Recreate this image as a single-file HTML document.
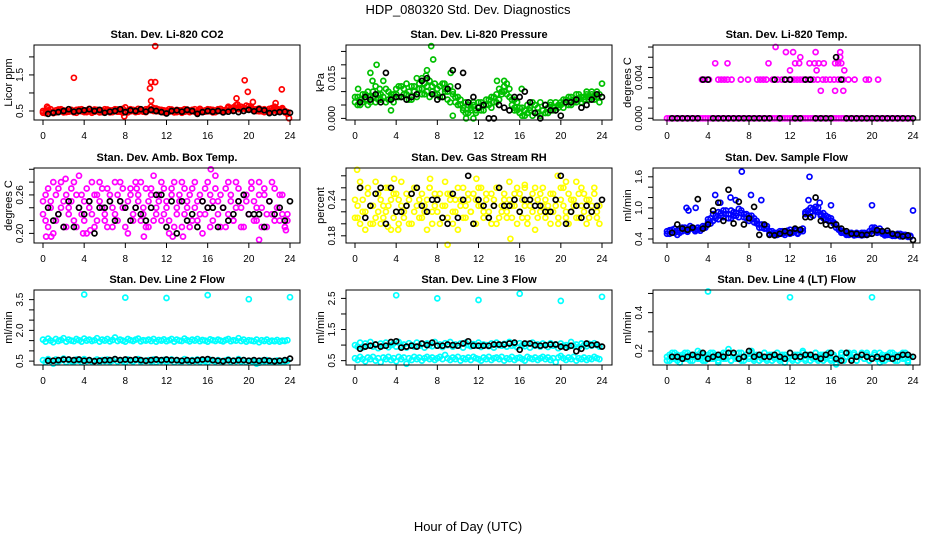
<!DOCTYPE html>
<html><head><meta charset="utf-8"><style>
html,body{margin:0;padding:0;background:#fff;}
svg{display:block;font-family:"Liberation Sans",Arial,sans-serif;}
</style></head><body>
<svg id="chart" width="936" height="540" viewBox="0 0 936 540" xmlns="http://www.w3.org/2000/svg">
<text x="468" y="14" font-size="13" text-anchor="middle">HDP_080320  Std. Dev. Diagnostics</text>
<text x="468" y="531" font-size="13" text-anchor="middle">Hour of Day (UTC)</text>
</svg>
<script>
// ---- data (colored band values sampled every 0.25 h from 0; black every 0.5 h from 0.5) ----
const co2Band=[0.45,0.50,0.58,0.47,0.44,0.52,0.49,0.55,0.46,0.51,0.48,0.53,0.50,0.45,0.54,0.49,0.52,0.47,0.56,0.50,0.48,0.53,0.46,0.51,0.55,0.49,0.52,0.47,0.50,0.54,0.48,0.45,0.60,0.51,0.49,0.53,0.47,0.56,0.50,0.48,0.55,0.52,0.62,0.50,0.57,0.49,0.53,0.46,0.51,0.48,0.54,0.50,0.47,0.52,0.45,0.55,0.49,0.51,0.53,0.48,0.50,0.56,0.47,0.52,0.49,0.54,0.46,0.51,0.55,0.50,0.48,0.53,0.58,0.52,0.60,0.66,0.55,0.62,0.58,0.54,0.63,0.57,0.52,0.55,0.49,0.53,0.47,0.51,0.56,0.50,0.62,0.48,0.53,0.58,0.46,0.42];
const co2Band2=[0.50,0.44,0.52,0.55,0.48,0.46,0.54,0.50,0.52,0.47,0.55,0.49,0.46,0.53,0.50,0.55,0.47,0.52,0.49,0.45,0.54,0.50,0.52,0.47,0.49,0.54,0.46,0.52,0.55,0.48,0.51,0.56,0.49,0.46,0.55,0.50,0.52,0.48,0.54,0.51,0.47,0.56,0.52,0.58,0.49,0.54,0.48,0.52,0.47,0.55,0.50,0.46,0.53,0.49,0.52,0.48,0.54,0.47,0.50,0.55,0.46,0.52,0.50,0.48,0.55,0.49,0.53,0.47,0.51,0.56,0.52,0.49,0.62,0.56,0.52,0.58,0.61,0.55,0.59,0.65,0.56,0.60,0.54,0.50,0.57,0.49,0.55,0.52,0.48,0.58,0.53,0.56,0.49,0.54,0.50,0.47];
const co2ExtraHours=[10.9,3,10.5,10.9,10.4,19.6,19.9,23.2,18.8,10.5,20.4,22.6,23.9,0.4,7.9,18.9];
const co2ExtraValues=[2.3,1.42,1.3,1.3,1.13,1.35,1.03,1.1,0.85,0.78,0.75,0.72,0.3,0.62,0.35,0.68];
const co2Black=[0.42,0.45,0.47,0.5,0.55,0.48,0.5,0.52,0.55,0.5,0.53,0.45,0.48,0.5,0.55,0.47,0.52,0.5,0.55,0.48,0.53,0.5,0.47,0.43,0.5,0.52,0.48,0.53,0.5,0.42,0.47,0.5,0.48,0.5,0.46,0.48,0.5,0.47,0.5,0.53,0.49,0.55,0.52,0.44,0.45,0.47,0.48,0.45];

const presBandMilli=[6,8,5,9,7,10,6,8,12,7,9,14,6,10,8,9,11,8,12,9,13,10,7,12,15,11,9,13,10,14,12,9,11,8,13,10,7,12,9,6,8,5,3,6,2,4,5,3,4,6,3,5,7,4,8,6,11,9,10,13,8,5,7,3,2,4,1,5,3,6,2,4,1,3,5,2,6,4,3,5,6,4,7,5,8,6,9,7,6,8,10,7,9,8,10,6];
const presBand2Milli=[8,5,7,6,9,5,8,10,6,9,7,8,11,7,9,6,9,12,8,11,9,7,12,10,8,13,11,9,12,8,10,13,9,12,8,11,10,6,10,8,5,7,4,2,5,3,6,2,6,3,5,7,5,8,6,9,7,10,12,9,11,7,4,6,4,1,3,2,4,1,5,2,6,3,2,4,5,3,6,4,5,7,6,8,5,7,6,9,8,7,9,8,10,7,8,9];
const presExtraHours=[7.4,7.6,2.1,1.5,9.3,1.7,6.9,7.0,8.7,0.3,3.5,9.5,13.8,16.2,24,11.5,14.5,15.5,10.8,6.5,2.4];
const presExtraMilli=[27,22,20,17,17,14,16,18,13,11,3,1,14,11,13,0,14,3,0,15,11];
const presBlackMilli=[6,8,7,9,6,17,7,8,8,7,8,9,14,15,9,7,8,11,18,12,17,6,8,4,5,0,0,5,4,3,8,8,10,6,2,0,5,3,3,1,6,6,7,4,5,7,9,8];

const tempBandMilli=[0,0,0,0,0,0,0,0,0,0,0,0,0,0,0,0,0,0,0,0,0,0,0,0,0,0,0,0,0,0,0,0,0,0,0,0,0,0,0,0,0,0,0,0,0,0,0,0,0,0,0,0,0,0,0,0,0,0,0,0,0,0,0,0,0,0,0,0,0,0,0,0,0,0,0,0,0,0,0,0,0,0,0,0,0,0,0,0,0,0,0,0,0,0,0,0];
const tempExtraHours=[3.4,3.7,4.1,5,5.3,5.6,5.9,6.3,7.2,7.9,8.8,9.1,9.4,9.7,10.3,10.8,11.2,11.6,12.1,12.4,12.7,13,13.3,13.8,14.3,14.7,15.2,15.5,15.9,16.3,16.7,17.2,17.7,18.3,19.4,19.7,20.6,4.7,5.9,9.9,12.5,12.9,13.9,14.4,14.8,15.3,16.4,16.7,17.0,12.0,14.6,17.3,13.0,16.9,11.6,12.3,14.5,16.9,10.6,15.0,16.4,17.2];
const tempExtraMilli=[3.8,3.8,3.8,3.8,3.8,3.8,3.8,3.8,3.8,3.8,3.8,3.8,3.8,3.8,3.8,3.8,3.8,3.8,3.8,3.8,3.8,3.8,3.8,3.8,3.8,3.8,3.8,3.8,3.8,3.8,3.8,3.8,3.8,3.8,3.8,3.8,3.8,5.4,5.4,5.4,5.4,5.4,5.4,5.4,5.4,5.4,5.4,5.4,5.4,4.7,4.7,4.7,6.0,6.0,6.5,6.5,6.5,6.5,7.0,2.7,2.7,2.7];
const tempBlackMilli=[0,0,0,0,0,0,3.8,3.8,0,0,0,0,0,0,0,0,0,0,0,0,3.8,0,3.8,3.8,0,0,3.8,3.8,0,0,0,0,6.0,3.8,0,0,0,0,0,0,0,0,0,0,0,0,0,0];

const ambBand=[25,22,27,24,20,26,23,28,25,21,24,27,22,26,29,23,25,20,24,28,26,22,25,27,23,21,26,24,28,22,25,27,24,20,26,23,28,25,22,24,27,21,26,29,23,25,22,27,24,20,26,28,23,25,21,27,24,26,22,28,25,23,20,27,24,26,22,29,25,21,24,27,23,26,22,28,25,24,21,26,23,27,25,22,28,24,26,21,25,23,27,24,22,26,21,23];
const ambBand2=[23,26,21,25,28,22,27,24,21,26,23,25,28,21,24,26,22,27,25,23,21,26,28,24,22,27,25,21,23,26,28,24,21,25,27,22,24,26,28,23,21,25,27,22,24,26,28,23,25,22,27,21,24,26,28,23,25,21,27,24,22,26,25,23,28,21,25,27,23,26,24,21,28,25,22,24,27,21,26,25,23,28,22,24,26,21,27,23,25,28,22,24,26,23,21,22];
const ambExtraHours=[2.2,16.3,21,9.1,13.6,12.6,23.6,0.3,0.8,3.9,9.8,4.6];
const ambExtraValues=[28.5,30,19,27,19.5,19.5,20.5,19.5,19.5,20,19.5,20.5];
const ambBlack=[24,22,23,21,25,21,24,23,25,20,24,24,25,22,25,24,22,24,23,22,24,26,26,21,25,20,25,22,23,21,25,24,24,21,24,22,23,25,26,23,23,23,21,25,23,24,22,25];

const rhBand=[24,21,26,22,19,25,23,20,27,22,24,21,26,23,19,25,22,24,27,21,23,20,25,22,26,24,21,23,19,26,22,25,24,20,23,27,21,25,22,24,19,23,26,21,24,22,25,20,23,26,22,24,21,25,23,20,26,22,24,21,27,23,25,20,22,24,26,21,23,25,19,24,22,26,21,23,25,22,24,20,26,23,21,25,22,24,27,21,23,25,20,24,22,26,21,23];
const rhBand2=[21,23,20,24,22,26,20,23,21,25,20,23,22,26,24,21,25,20,23,22,25,24,20,26,23,21,25,22,24,26,20,23,22,25,21,23,25,24,20,22,26,24,21,23,25,22,20,24,26,23,21,25,22,20,24,26,21,23,25,22,24,21,23,26,25,21,23,20,24,22,26,21,25,23,24,22,20,25,23,21,24,26,22,20,24,23,21,25,26,22,24,21,23,25,22,20];
const rhExtraHours=[0.2,9,15.1,0.5,3.8,4.2,7.3,11.8,19.7,20.5,16.5,3.2];
const rhExtraValues=[29,16.5,17.5,27,27.5,19,27.5,27.5,28,27,26.5,19.5];
const rhBlack=[26,21,23,25,26,20,26,22,22,23,25,26,23,22,24,24,21,20,25,21,24,28,20,24,23,21,23,26,23,23,24,22,24,24,23,23,22,22,24,28,20,22,23,21,23,22,23,24];

const flowBand=[0.55,0.50,0.58,0.52,0.48,0.60,0.55,0.62,0.57,0.65,0.60,0.58,0.62,0.56,0.60,0.65,0.72,0.80,0.75,0.85,0.78,0.90,0.82,0.95,0.88,0.80,0.92,0.85,0.98,0.90,0.82,0.88,0.75,0.85,0.80,0.70,0.68,0.62,0.66,0.60,0.55,0.50,0.52,0.48,0.55,0.50,0.52,0.56,0.50,0.54,0.58,0.52,0.55,0.60,0.88,0.95,0.90,0.98,1.02,0.92,0.85,0.90,0.78,0.82,0.75,0.72,0.68,0.60,0.55,0.52,0.50,0.48,0.52,0.50,0.48,0.50,0.47,0.52,0.48,0.50,0.62,0.58,0.55,0.60,0.52,0.50,0.48,0.50,0.46,0.48,0.50,0.45,0.48,0.46,0.47,0.44];
const flowBand2=[0.50,0.57,0.53,0.60,0.56,0.52,0.62,0.58,0.54,0.60,0.62,0.55,0.58,0.60,0.65,0.62,0.78,0.70,0.88,0.80,0.92,0.85,0.95,0.88,0.80,0.95,0.85,0.90,0.82,0.95,0.88,0.80,0.85,0.78,0.72,0.75,0.62,0.68,0.60,0.65,0.50,0.55,0.48,0.52,0.50,0.55,0.48,0.52,0.58,0.52,0.55,0.50,0.58,0.55,0.92,0.88,1.00,0.85,0.95,1.00,0.88,0.80,0.85,0.75,0.80,0.70,0.62,0.58,0.52,0.55,0.48,0.52,0.50,0.47,0.52,0.48,0.52,0.48,0.50,0.55,0.56,0.62,0.52,0.55,0.50,0.47,0.52,0.48,0.50,0.46,0.48,0.50,0.45,0.48,0.44,0.46];
const flowExtraHours=[7.3,13.9,6.2,4.7,8.2,1.9,2.1,13.8,14.9,16,20,24,5.2,6.7,9.2,2.8];
const flowExtraValues=[1.7,1.6,1.2,1.25,1.25,1.0,0.95,1.15,1.1,1.05,1.05,0.95,1.1,1.15,1.15,1.0];
const flowBlack=[0.52,0.68,0.6,0.58,0.62,1.17,0.6,0.68,0.95,1.1,0.75,1.35,0.7,1.12,0.68,0.8,1.02,0.48,0.68,0.48,0.47,0.5,0.55,0.52,0.6,0.58,0.82,0.82,1.2,0.75,0.68,0.66,0.68,0.6,0.55,0.5,0.5,0.48,0.48,0.5,0.57,0.55,0.56,0.5,0.48,0.45,0.47,0.38];

const line2Band=[1.55,1.45,1.60,1.50,1.42,1.58,1.48,1.53,1.62,1.45,1.55,1.50,1.47,1.58,1.52,1.45,1.60,1.50,1.55,1.48,1.52,1.62,1.45,1.55,1.50,1.58,1.46,1.53,1.65,1.48,1.55,1.50,1.45,1.58,1.52,1.48,1.55,1.60,1.46,1.52,1.50,1.55,1.48,1.58,1.45,1.53,1.50,1.56,1.47,1.52,1.58,1.45,1.55,1.50,1.48,1.60,1.52,1.46,1.55,1.50,1.58,1.47,1.53,1.50,1.45,1.56,1.52,1.48,1.55,1.50,1.46,1.53,1.58,1.47,1.52,1.50,1.62,1.48,1.55,1.45,1.52,1.50,1.47,1.55,1.42,1.52,1.48,1.55,1.45,1.50,1.47,1.53,1.45,1.50,1.48,1.52];
const line2Low=[0.55,0.45,0.60,0.50,0.38,0.58,0.48,0.55,0.62,0.45,0.55,0.50,0.47,0.58,0.52,0.45,0.60,0.50,0.55,0.48,0.52,0.58,0.45,0.55,0.50,0.58,0.46,0.53,0.60,0.48,0.55,0.50,0.45,0.58,0.52,0.48,0.55,0.60,0.46,0.52,0.50,0.55,0.48,0.58,0.45,0.53,0.50,0.56,0.47,0.52,0.58,0.45,0.55,0.50,0.48,0.60,0.52,0.46,0.55,0.50,0.58,0.47,0.53,0.50,0.45,0.56,0.52,0.48,0.55,0.50,0.46,0.53,0.58,0.47,0.52,0.50,0.60,0.48,0.55,0.45,0.52,0.50,0.47,0.38,0.42,0.52,0.48,0.55,0.45,0.50,0.47,0.53,0.45,0.50,0.48,0.52];
const line2ExtraHours=[4,8,12,16,20,24];
const line2ExtraValues=[3.75,3.6,3.58,3.72,3.52,3.62];
const line2Black=[0.52,0.52,0.55,0.58,0.58,0.55,0.58,0.52,0.55,0.5,0.52,0.55,0.55,0.6,0.55,0.58,0.55,0.58,0.55,0.52,0.55,0.58,0.55,0.58,0.55,0.55,0.52,0.55,0.52,0.55,0.58,0.6,0.55,0.52,0.5,0.55,0.52,0.55,0.55,0.52,0.55,0.52,0.55,0.52,0.5,0.52,0.55,0.62];

const line3Band=[1.00,0.95,1.08,0.92,1.05,0.98,1.10,0.95,1.02,0.90,1.05,0.98,1.08,0.93,1.00,1.05,0.95,1.10,0.98,1.02,0.92,1.06,1.00,0.95,1.08,0.98,1.03,0.92,1.05,1.00,0.96,1.10,0.98,1.02,0.94,1.06,1.00,1.10,0.95,1.02,0.98,1.05,0.92,1.08,1.00,0.96,1.03,0.98,1.08,0.94,1.02,1.00,0.96,1.05,0.92,1.08,1.00,0.98,1.04,0.95,1.10,0.98,1.02,0.93,1.06,1.00,0.96,1.04,0.92,1.08,0.98,1.02,0.95,1.05,1.00,0.94,1.06,0.98,1.02,0.90,1.05,0.98,1.00,0.95,1.10,0.98,1.02,0.94,1.05,1.00,0.96,1.04,0.98,1.06,1.00,0.95];
const line3Low=[0.58,0.52,0.62,0.55,0.48,0.60,0.55,0.62,0.50,0.58,0.45,0.60,0.55,0.62,0.52,0.58,0.48,0.62,0.55,0.60,0.40,0.58,0.52,0.62,0.55,0.60,0.50,0.58,0.62,0.55,0.60,0.52,0.58,0.62,0.55,0.68,0.58,0.52,0.60,0.55,0.62,0.50,0.58,0.55,0.60,0.52,0.62,0.58,0.55,0.50,0.60,0.55,0.62,0.52,0.58,0.60,0.55,0.62,0.50,0.58,0.55,0.62,0.52,0.58,0.60,0.55,0.50,0.62,0.58,0.55,0.60,0.52,0.58,0.62,0.55,0.60,0.52,0.58,0.45,0.60,0.65,0.58,0.52,0.60,0.55,0.62,0.50,0.58,0.55,0.60,0.52,0.58,0.55,0.62,0.58,0.55];
const line3ExtraHours=[4,8,12,16,20,24];
const line3ExtraValues=[2.6,2.5,2.45,2.65,2.42,2.55];
const line3Black=[0.88,0.95,0.98,1.02,0.95,0.98,1.1,1.12,0.92,0.95,0.98,0.95,1.05,1.0,1.08,0.98,0.98,1.02,1.0,0.98,1.05,1.12,0.98,0.98,0.98,0.98,1.02,1.02,1.02,1.05,1.08,0.85,1.05,1.05,1.0,0.98,1.0,1.02,1.02,0.95,0.92,0.98,0.8,0.88,1.05,1.0,1.02,0.95];

const line4Band=[0.17,0.15,0.19,0.16,0.18,0.14,0.17,0.19,0.16,0.18,0.15,0.17,0.20,0.16,0.18,0.15,0.17,0.19,0.16,0.18,0.14,0.17,0.19,0.16,0.21,0.15,0.18,0.17,0.16,0.19,0.15,0.18,0.17,0.20,0.16,0.18,0.15,0.17,0.19,0.16,0.18,0.15,0.17,0.19,0.16,0.18,0.14,0.17,0.19,0.16,0.18,0.15,0.17,0.20,0.16,0.18,0.15,0.17,0.19,0.16,0.18,0.15,0.17,0.19,0.16,0.18,0.14,0.16,0.18,0.15,0.17,0.19,0.16,0.18,0.15,0.17,0.19,0.16,0.18,0.15,0.17,0.19,0.16,0.14,0.18,0.15,0.17,0.19,0.16,0.18,0.15,0.17,0.19,0.16,0.14,0.17];
const line4Band2=[0.15,0.18,0.16,0.19,0.15,0.17,0.18,0.16,0.19,0.15,0.17,0.18,0.16,0.19,0.15,0.17,0.18,0.16,0.19,0.17,0.15,0.18,0.16,0.19,0.17,0.15,0.18,0.16,0.19,0.15,0.17,0.18,0.16,0.19,0.15,0.17,0.18,0.16,0.19,0.15,0.17,0.18,0.16,0.19,0.15,0.17,0.18,0.16,0.19,0.15,0.17,0.18,0.16,0.19,0.15,0.17,0.18,0.16,0.19,0.15,0.17,0.18,0.16,0.19,0.15,0.17,0.13,0.16,0.19,0.15,0.17,0.18,0.16,0.19,0.15,0.17,0.18,0.16,0.19,0.15,0.17,0.18,0.16,0.19,0.15,0.17,0.18,0.16,0.19,0.15,0.17,0.18,0.16,0.19,0.15,0.17];
const line4ExtraHours=[4,12,20];
const line4ExtraValues=[0.51,0.48,0.48];
const line4Black=[0.17,0.17,0.16,0.17,0.18,0.17,0.19,0.16,0.17,0.18,0.17,0.19,0.19,0.16,0.17,0.2,0.17,0.18,0.17,0.17,0.18,0.17,0.16,0.19,0.17,0.17,0.18,0.18,0.17,0.16,0.18,0.19,0.16,0.15,0.19,0.15,0.17,0.18,0.17,0.16,0.17,0.16,0.17,0.16,0.17,0.18,0.18,0.17];

// tick values
const xTicks=[0,4,8,12,16,20,24];
const co2Ticks=[0.5,1.0,1.5,2.0], co2Labels=["0.5","","1.5",""];
const presTicks=[0,5,10,15,20,25], presLabels=["0.000","","","0.015","",""];
const tempTicks=[0,1,2,3,4,5,6,7], tempLabels=["0.000","","","","0.004","","",""];
const ambTicks=[20,22,24,26,28,30], ambLabels=["0.20","","","0.26","",""];
const rhTicks=[18,20,22,24,26,28], rhLabels=["0.18","","","0.24","",""];
const flowTicks=[0.4,0.6,0.8,1.0,1.2,1.4,1.6], flowLabels=["0.4","","","1.0","","","1.6"];
const line2Ticks=[0.5,1.0,1.5,2.0,2.5,3.0,3.5], line2Labels=["0.5","","","2.0","","","3.5"];
const line3Ticks=[0.5,1.0,1.5,2.0,2.5], line3Labels=["0.5","","1.5","","2.5"];
const line4Ticks=[0.2,0.3,0.4,0.5], line4Labels=["0.2","","0.4",""];

// ---- rendering ----
const NS="http://www.w3.org/2000/svg";
const svg=document.getElementById('chart');
const colLeft=[34,346,653], colRight=[300,612,920], colX0=[43,355,667], colX24=[290,602,913];
const rowTop=[45,168,290], rowBottom=[120,243,365];

function mk(tag,attrs,parent){const e=document.createElementNS(NS,tag);for(const k in attrs)e.setAttribute(k,attrs[k]);(parent||svg).appendChild(e);return e;}

function panel(p){
  const L=colLeft[p.col],R=colRight[p.col],T=rowTop[p.row],B=rowBottom[p.row];
  const g=mk('g',{});
  
  
  const xs=h=>colX0[p.col]+(h/24)*(colX24[p.col]-colX0[p.col]);
  const ys=v=>B-(v-p.ymin)/(p.ymax-p.ymin)*(B-T);
  const t=mk('text',{x:(L+R)/2,y:T-7,'font-size':11,'font-weight':'bold','text-anchor':'middle'},g);
  t.textContent=p.title;
  
  
  const yl=mk('text',{x:0,y:0,'font-size':11,'text-anchor':'middle',transform:`translate(${L-22},${(T+B)/2}) rotate(-90)`},g);
  yl.textContent=p.ylab;
  
  
  const pts=mk('g',{fill:'none','stroke-width':1.7},g);
  
  
  const dot=(h,v,c)=>{const y=ys(v);if(y<T-3||y>B+3)return;const ci=mk('circle',{cx:xs(h).toFixed(1),cy:y.toFixed(1),r:2.5,stroke:c},pts);
    
    };
  p.bands.forEach(b=>b.forEach((v,i)=>dot(i*0.25,v*p.scale,p.color)));
  p.exH.forEach((h,i)=>dot(h,p.exV[i]*p.scale,p.color));
  p.black.forEach((v,i)=>dot(0.5+i*0.5,v*p.scale,'#000'));
  const box=mk('rect',{x:L,y:T,width:R-L,height:B-T,fill:'none',stroke:'#000','stroke-width':1},g);
  
  
  const xa=mk('g',{},g);
  
  
  xTicks.forEach(h=>{const x=xs(h);mk('line',{x1:x,x2:x,y1:B,y2:B+5,stroke:'#000'},xa);
    const tl=mk('text',{x:x,y:B+19,'font-size':10,'text-anchor':'middle'},xa);tl.textContent=h;
    
    });
  const ya=mk('g',{},g);
  
  
  p.ticks.forEach((tv,i)=>{const y=ys(tv*p.scale);mk('line',{x1:L-5,x2:L,y1:y,y2:y,stroke:'#000'},ya);
    if(p.labels[i]){const tl=mk('text',{x:0,y:0,'font-size':10,'text-anchor':'middle',transform:`translate(${L-11},${y}) rotate(-90)`},ya);tl.textContent=p.labels[i];
    
    }});
}

panel({name:'co2',title:'Stan. Dev. Li-820 CO2',ylab:'Licor ppm',col:0,row:0,ymin:0.25,ymax:2.33,scale:1,color:'#ff0000',bands:[co2Band,co2Band2],exH:co2ExtraHours,exV:co2ExtraValues,black:co2Black,ticks:co2Ticks,labels:co2Labels});
panel({name:'pressure',title:'Stan. Dev. Li-820 Pressure',ylab:'kPa',col:1,row:0,ymin:-0.0006,ymax:0.0274,scale:0.001,color:'#00c000',bands:[presBandMilli,presBand2Milli],exH:presExtraHours,exV:presExtraMilli,black:presBlackMilli,ticks:presTicks,labels:presLabels});
panel({name:'li820-temp',title:'Stan. Dev. Li-820 Temp.',ylab:'degrees C',col:2,row:0,ymin:-0.00017,ymax:0.0072,scale:0.001,color:'#ff00ff',bands:[tempBandMilli],exH:tempExtraHours,exV:tempExtraMilli,black:tempBlackMilli,ticks:tempTicks,labels:tempLabels});
panel({name:'amb-box-temp',title:'Stan. Dev. Amb. Box Temp.',ylab:'degrees C',col:0,row:1,ymin:0.185,ymax:0.302,scale:0.01,color:'#ff00ff',bands:[ambBand,ambBand2],exH:ambExtraHours,exV:ambExtraValues,black:ambBlack,ticks:ambTicks,labels:ambLabels});
panel({name:'gas-rh',title:'Stan. Dev. Gas Stream RH',ylab:'percent',col:1,row:1,ymin:0.168,ymax:0.293,scale:0.01,color:'#ffff00',bands:[rhBand,rhBand2],exH:rhExtraHours,exV:rhExtraValues,black:rhBlack,ticks:rhTicks,labels:rhLabels});
panel({name:'sample-flow',title:'Stan. Dev. Sample Flow',ylab:'ml/min',col:2,row:1,ymin:0.323,ymax:1.77,scale:1,color:'#0000ff',bands:[flowBand,flowBand2],exH:flowExtraHours,exV:flowExtraValues,black:flowBlack,ticks:flowTicks,labels:flowLabels});
panel({name:'line2-flow',title:'Stan. Dev. Line 2 Flow',ylab:'ml/min',col:0,row:2,ymin:0.31,ymax:3.97,scale:1,color:'#00ffff',bands:[line2Band,line2Low],exH:line2ExtraHours,exV:line2ExtraValues,black:line2Black,ticks:line2Ticks,labels:line2Labels});
panel({name:'line3-flow',title:'Stan. Dev. Line 3 Flow',ylab:'ml/min',col:1,row:2,ymin:0.36,ymax:2.77,scale:1,color:'#00ffff',bands:[line3Band,line3Low],exH:line3ExtraHours,exV:line3ExtraValues,black:line3Black,ticks:line3Ticks,labels:line3Labels});
panel({name:'line4-flow',title:'Stan. Dev. Line 4 (LT) Flow',ylab:'ml/min',col:2,row:2,ymin:0.127,ymax:0.518,scale:1,color:'#00ffff',bands:[line4Band,line4Band2],exH:line4ExtraHours,exV:line4ExtraValues,black:line4Black,ticks:line4Ticks,labels:line4Labels});
</script>
</body></html>
